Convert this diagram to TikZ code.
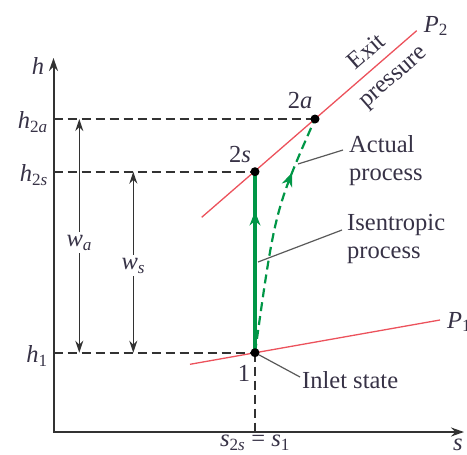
\documentclass[tikz,border=0pt]{standalone}
\usepackage{fontspec}
\setmainfont{Liberation Serif}
\usetikzlibrary{arrows.meta,decorations.markings}
\definecolor{axisgray}{RGB}{50,50,50}
\definecolor{isored}{RGB}{236,82,92}
\definecolor{procgreen}{RGB}{0,150,70}
\definecolor{labelink}{RGB}{55,50,70}
\newcommand{\qty}[2]{\textit{#1}\textsubscript{#2}}

\begin{document}
\begin{tikzpicture}[
    x=1pt,y=-1pt,
    every node/.style={font=\fontsize{24.5}{28}\selectfont,text=labelink},
    axis/.style={{Stealth[length=13pt,width=9pt]}-{Stealth[length=13pt,width=9pt]},line width=2pt,draw=axisgray},
    guide/.style={dash pattern=on 9pt off 5pt,line width=1.8pt,draw=axisgray},
    work/.style={{Stealth[length=12pt,width=8pt]}-{Stealth[length=12pt,width=8pt]},line width=1.4pt,draw=axisgray},
    isobar/.style={line width=1.3pt,draw=isored},
    state/.style={circle,fill=black,inner sep=0pt,minimum size=9pt},
    leader/.style={line width=1.2pt,draw=black!65},
    midarrow/.style={postaction={decorate},decoration={markings,
      mark=at position #1 with {\arrow[line width=1pt]{Stealth[length=14pt,width=11pt]}}}},
    note/.style={align=left,anchor=west,inner sep=0pt}
  ]
    \useasboundingbox (0,0) rectangle (467,455);

    % states and axis points
    \coordinate (origin) at (53.5,432);
    \coordinate (ytip) at (53.5,58);
    \coordinate (xtip) at (464,432);
    \coordinate (p1) at (255,352.7);
    \coordinate (p2s) at (255,171.7);
    \coordinate (p2a) at (315,119);
    \coordinate (s1) at (255,432);
    \coordinate (yh1) at (53.5,352.7);
    \coordinate (yh2s) at (53.5,171.7);
    \coordinate (yh2a) at (53.5,119);
    \coordinate (watop) at (79.3,119);
    \coordinate (wabot) at (79.3,352.7);
    \coordinate (wstop) at (133.3,171.7);
    \coordinate (wsbot) at (133.3,352.7);

    % isobars
    \coordinate (p2lo) at (201.7,217.3);
    \coordinate (p2hi) at (416.7,30.7);
    \coordinate (p1lo) at (190,364.3);
    \coordinate (p1hi) at (440,320);
    \draw[isobar] (p2lo) -- (p2hi);
    \draw[isobar] (p1lo) -- (p1hi);

    % guide lines
    \draw[guide] (yh2a) -- (p2a);
    \draw[guide] (yh2s) -- (p2s);
    \draw[guide] (yh1) -- (p1);
    \draw[guide] (p1) -- (s1);

    % axes
    \draw[axis] (ytip) -- (origin) -- (xtip);

    % work arrows
    \draw[work] (watop) -- (wabot) node[pos=0.53,fill=white,inner sep=3pt] (wa) {\qty{w}{\textit{a}}};
    \draw[work] (wstop) -- (wsbot) node[pos=0.52,fill=white,inner sep=3pt] (ws) {\qty{w}{\textit{s}}};

    % processes
    \draw[procgreen,line width=3.5pt,midarrow=0.78] (p1) -- (p2s);
    \draw[procgreen,line width=2.2pt,dash pattern=on 9pt off 5pt,midarrow=0.76]
      (p1) .. controls (275,210) .. (p2a);

    % state dots
    \node[state] (d1) at (p1) {};
    \node[state] (d2s) at (p2s) {};
    \node[state] (d2a) at (p2a) {};

    % axis labels
    \node (hlab) at (38,66) {\textit{h}};
    \node (slab) at (458,445) {\textit{s}};
    \node[anchor=east,inner sep=0pt] (h2alab) at (48,122) {\qty{h}{2\textit{a}}};
    \node[anchor=east,inner sep=0pt] (h2slab) at (48,175) {\qty{h}{2\textit{s}}};
    \node[anchor=east,inner sep=0pt] (h1lab) at (48,356) {\qty{h}{1}};
    \node (slab1) at (255,443) {\qty{s}{2\textit{s}} = \qty{s}{1}};

    % state labels
    \node (l1) at (244,373) {1};
    \node (l2s) at (240,155) {2\textit{s}};
    \node (l2a) at (300,101) {2\textit{a}};
    \node (lP2) at (436,26) {\qty{P}{2}};
    \node[anchor=west,inner sep=0pt] (lP1) at (447,322) {\qty{P}{1}};
    \node[rotate=41] (exit) at (366,51) {Exit};
    \node[rotate=41] (pres) at (395,79) {pressure};

    % notes with leaders
    \node[note] (act) at (349,161) {Actual\\process};
    \node[note] (isen) at (347,239) {Isentropic\\process};
    \node[note] (inl) at (302,380) {Inlet state};
    \coordinate (actpt) at (298,164);
    \coordinate (isenpt) at (258,262);
    \draw[leader] (actpt) -- ([shift={(-6,-11)}]act.west);
    \draw[leader] (isenpt) -- ([shift={(-5,-9)}]isen.west);
    \draw[leader] (d1) -- ([shift={(-2,-3)}]inl.west);
  \end{tikzpicture}
\end{document}
